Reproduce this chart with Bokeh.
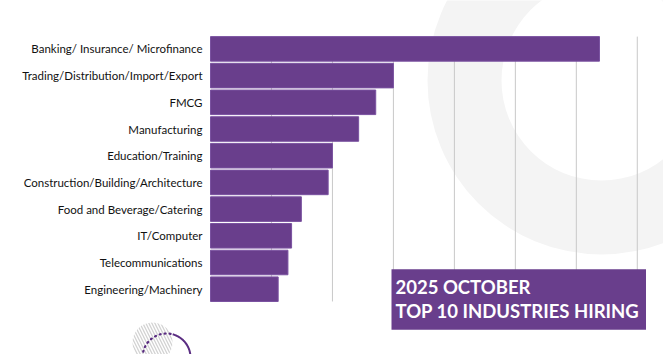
import numpy as np
from bokeh.plotting import figure
from bokeh.models import Range1d, ColumnDataSource
from bokeh.core.properties import value
from bokeh.embed import file_html
from bokeh.resources import INLINE

# ---- data ----
categories = [
    "Banking/ Insurance/ Microfinance",
    "Trading/Distribution/Import/Export",
    "FMCG",
    "Manufacturing",
    "Education/Training",
    "Construction/Building/Architecture",
    "Food and Beverage/Catering",
    "IT/Computer",
    "Telecommunications",
    "Engineering/Machinery",
]
values = [638, 300, 271, 243, 200, 193, 149, 133, 127, 111]
grid_ticks = [100, 200, 300, 400, 500, 600, 700]
title_lines = ["2025 OCTOBER", "TOP 10 INDUSTRIES HIRING"]

PURPLE = "#693e8c"
W, H = 663, 354
LEFT = 210                      # pixel where value 0 sits
X_END = 743                     # value at right edge of canvas
PX_PER_X = (W - LEFT) / X_END
X_START = -LEFT / PX_PER_X
Y_TOP, Y_BOT = -1.813, 11.446   # category index at canvas top / bottom
PX_PER_Y = H / (Y_BOT - Y_TOP)

def dx(px):
    return (np.asarray(px, dtype=float) - LEFT) / PX_PER_X
def dy(py):
    return Y_TOP + np.asarray(py, dtype=float) / PX_PER_Y

idx = list(range(len(categories)))
src = ColumnDataSource(dict(y=idx, v=values, zero=[0] * len(values), cat=categories))

p = figure(width=W, height=H, output_backend="svg", toolbar_location=None,
           x_range=Range1d(X_START, X_END), y_range=Range1d(Y_BOT, Y_TOP),
           x_axis_location=None, y_axis_location=None,
           min_border_left=0, min_border_right=0, min_border_top=0, min_border_bottom=0)
p.outline_line_color = None
p.xgrid.visible = False
p.ygrid.visible = False
p.background_fill_color = "white"
p.border_fill_color = "white"

# background ring
p.annulus(x=[float(dx(601))], y=[float(dy(80))],
          inner_radius=100 / PX_PER_X, outer_radius=174 / PX_PER_X,
          fill_color="#f4f4f4", line_color=None)

# grid lines (limited to bar area)
p.segment(x0=grid_ticks, x1=grid_ticks, y0=[-0.46] * len(grid_ticks),
          y1=[len(categories) - 1 + 0.46] * len(grid_ticks),
          line_color="#c8c8c8", line_width=1)

# bars
p.hbar(y="y", left="zero", right="v", height=0.92, source=src,
       fill_color=PURPLE, line_color="#7a52a0", line_width=1)

# category labels
p.text(x=float(dx(202)), y="y", text="cat", source=src,
       text_font=value("Lato"), text_font_size="11.5px", text_color="#111111",
       text_align="right", text_baseline="middle")

# title box
p.quad(left=[float(dx(391))], right=[float(dx(645.5))], top=[float(dy(268.7))],
       bottom=[float(dy(329.3))], fill_color=PURPLE, line_color=None)
p.text(x=[float(dx(395))] * 2, y=[float(dy(286)), float(dy(310))], text=title_lines,
       text_font=value("Lato"), text_font_style="bold", text_font_size="18.5px",
       text_color="white", text_align="left", text_baseline="alphabetic")

# bottom-left decoration
p.circle(x=[float(dx(152))], y=[float(dy(342))], radius=20 / PX_PER_X,
         fill_alpha=0, line_color=None, hatch_pattern="left_diagonal_line",
         hatch_color="#d2d2d2", hatch_scale=6, hatch_weight=1.3)
cx, cy, r = 166, 357, 24
a1 = np.radians(np.linspace(-100, 15, 40))
a2 = np.radians(np.linspace(15, 100, 30))
p.line(x=dx(cx + r * np.sin(a1)), y=dy(cy - r * np.cos(a1)),
       line_color="#5a2d82", line_width=2.2, line_dash="1 4", line_cap="round")
p.line(x=dx(cx + r * np.sin(a2)), y=dy(cy - r * np.cos(a2)),
       line_color="#5a2d82", line_width=2)

open("out.html", "w").write(file_html(p, INLINE))
